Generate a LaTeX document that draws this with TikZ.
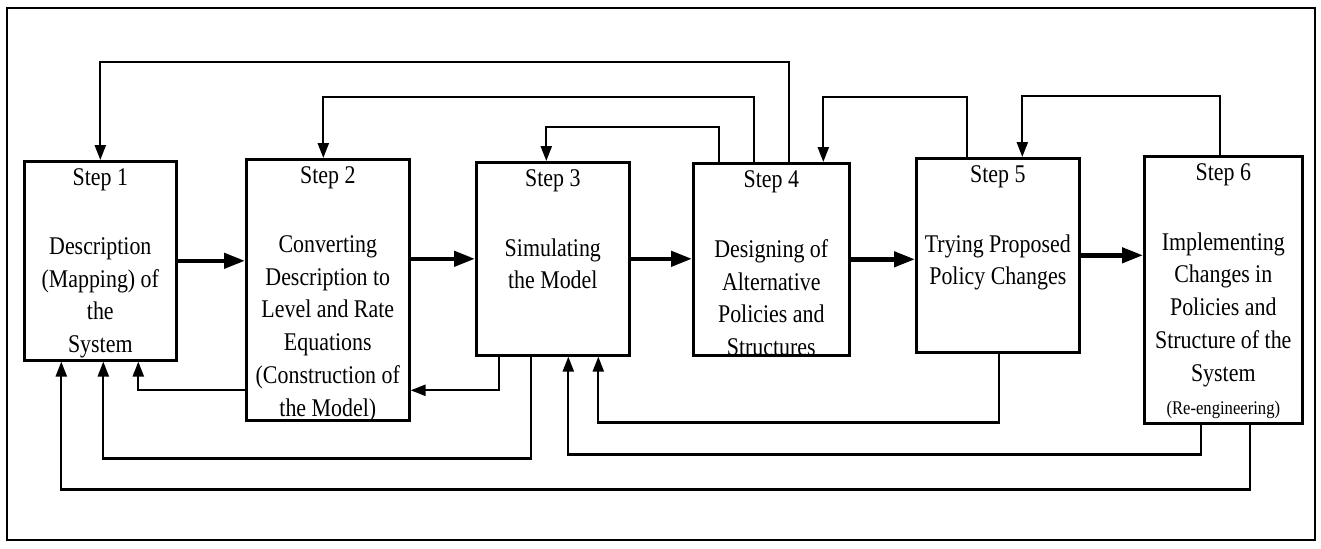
\documentclass[tikz,border=0pt]{standalone}
\usepackage{fontspec}
\setmainfont{Liberation Serif}[FakeStretch=0.86]
\usetikzlibrary{positioning,calc,arrows.meta}

\begin{document}
\begin{tikzpicture}[
    x=0.02cm, y=-0.02cm,
    every node/.style={font=\fontsize{14.5}{18.7}\selectfont},
    stepbox/.style={draw, line width=1.5pt, inner sep=0pt, anchor=north west},
    title/.style={inner sep=0pt, below=0.16cm of #1.north},
    body/.style={inner sep=0pt, align=center, below=1.54cm of #1.north},
    forward/.style={line width=2.5pt, -{Triangle[length=0.42cm,width=0.3cm]}},
    back/.style={line width=1.3pt, -{Triangle[length=0.3cm,width=0.22cm]}},
    frame/.style={line width=1.5pt}
]
\useasboundingbox (0,0) rectangle (1321,548);

% Outer frame
\draw[frame] (7,8) rectangle (1315,540);

% Step boxes
\node[stepbox, minimum width=3.04cm, minimum height=3.98cm] (s1) at (23,160) {};
\node[stepbox, minimum width=3.26cm, minimum height=5.22cm] (s2) at (245,158) {};
\node[stepbox, minimum width=3.06cm, minimum height=3.86cm] (s3) at (475,161) {};
\node[stepbox, minimum width=3.12cm, minimum height=3.84cm] (s4) at (692,162) {};
\node[stepbox, minimum width=3.26cm, minimum height=3.88cm] (s5) at (915,157) {};
\node[stepbox, minimum width=3.16cm, minimum height=5.34cm] (s6) at (1143,155) {};

% Titles
\node[title=s1] (t1) {Step 1};
\node[title=s2] (t2) {Step 2};
\node[title=s3] (t3) {Step 3};
\node[title=s4] (t4) {Step 4};
\node[title=s5] (t5) {Step 5};
\node[title=s6] (t6) {Step 6};

% Texts
\node[body=s1] (b1) {Description\\(Mapping) of\\the\\System};
\node[body=s2] (b2) {Converting\\Description to\\Level and Rate\\Equations\\(Construction of\\the Model)};
\node[body=s3] (b3) {Simulating\\the Model};
\node[body=s4] (b4) {Designing of\\Alternative\\Policies and\\Structures};
\node[body=s5] (b5) {Trying Proposed\\Policy Changes};
\node[body=s6] (b6) {Implementing\\Changes in\\Policies and\\Structure of the\\System\\{\fontsize{11}{18.7}\selectfont (Re-engineering)}};

% Forward arrows
\draw[forward] (s1.east) -- (s1.east -| s2.west);
\draw[forward] (s2.east |- s3.west) -- (s3.west);
\draw[forward] (s3.east) -- (s3.east -| s4.west);
\draw[forward] (s4.east) -- (s4.east -| s5.west);
\draw[forward] (s5.east) -- (s5.east -| s6.west);

% Feedback over the top
\draw[back] ($(s4.north)+(18,0)$) -- ++(0,-100) -| (s1.north);
\draw[back] ($(s4.north)+(-17,0)$) -- ++(0,-65) -| ($(s2.north)+(-4.5,0)$);
\draw[back] ($(s4.north)+(-52,0)$) -- ++(0,-35) -| ($(s3.north)+(-6.5,0)$);
\draw[back] ($(s5.north)+(-30.5,0)$) -- ++(0,-60) -| ($(s4.north)+(52,0)$);
\draw[back] ($(s6.north)+(-3,0)$) -- ++(0,-59) -| ($(s5.north)+(24.5,0)$);

% Feedback underneath
\draw[back] ($(s2.west)+(0,100.5)$) -| ($(s1.south)+(38,0)$);
\draw[back] ($(s3.south)+(-53.5,0)$) |- ($(s2.east)+(0,100.5)$);
\draw[back] ($(s3.south)+(-21.5,0)$) -- ++(0,102) -| ($(s1.south)+(3,0)$);
\draw[back] ($(s5.south)+(1.5,0)$) -- ++(0,69) -| ($(s3.south)+(45.5,0)$);
\draw[back] ($(s6.south)+(-22,0)$) -- ++(0,30) -| ($(s3.south)+(15.5,0)$);
\draw[back] ($(s6.south)+(27,0)$) -- ++(0,65) -| ($(s1.south)+(-39,0)$);
\end{tikzpicture}
\end{document}
